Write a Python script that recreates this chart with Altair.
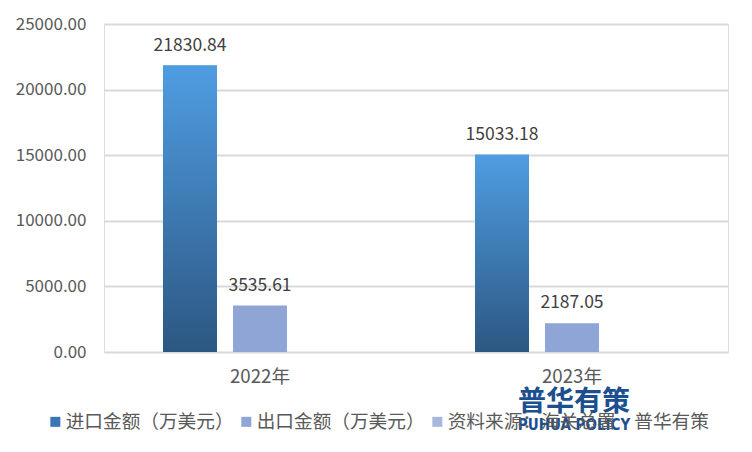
import altair as alt
import pandas as pd

years = ["2022年", "2023年"]
series = ["进口金额（万美元）", "出口金额（万美元）", "资料来源：海关总署　普华有策"]
import_vals = [21830.84, 15033.18]
export_vals = [3535.61, 2187.05]
y_ticks = [0, 5000, 10000, 15000, 20000, 25000]
watermark_cn = ["普华有策"]
watermark_en = ["PUHUA POLICY"]

rows = []
for y, v in zip(years, import_vals):
    rows.append({"year": y, "series": series[0], "value": v})
for y, v in zip(years, export_vals):
    rows.append({"year": y, "series": series[1], "value": v})
df = pd.DataFrame(rows)

FONT = "Noto Sans CJK SC"

x_enc = alt.X("year:N", sort=years,
              scale=alt.Scale(domain=years, paddingInner=0, paddingOuter=0),
              axis=alt.Axis(title=None, labelAngle=0, labelFontSize=18.67, labelColor="#595959",
                            labelPadding=15, ticks=False, domain=False, labelFont=FONT))
xo_enc = alt.XOffset("series:N", sort=series,
                     scale=alt.Scale(domain=series, paddingInner=16 / 70, paddingOuter=0.843))
y_enc = alt.Y("value:Q",
              scale=alt.Scale(domain=[0, 25000], nice=False),
              axis=alt.Axis(title=None, values=y_ticks, format=".2f", labelFontSize=17,
                            labelColor="#595959", labelPadding=18, ticks=False, domain=False,
                            gridColor="#d9d9d9", gridWidth=2, labelFont=FONT))

base = alt.Chart(df)

bars = base.mark_bar().encode(
    x=x_enc, xOffset=xo_enc, y=y_enc,
    color=alt.Color("series:N", sort=series,
                    scale=alt.Scale(domain=series, range=["#3a76b5", "#8fa5d5", "#a9b7df"]),
                    legend=alt.Legend(title=None, orient="none", legendX=-58, legendY=388,
                                      direction="horizontal", symbolType="square", symbolSize=100,
                                      symbolStrokeWidth=0, labelFontSize=18.67, labelColor="#595959",
                                      labelOffset=1, columnPadding=3, padding=0, labelLimit=500,
                                      labelFont=FONT)),
)

grad = alt.Gradient(
    gradient="linear",
    stops=[alt.GradientStop(color="#2c5782", offset=0),
           alt.GradientStop(color="#4f9de2", offset=1)],
    x1=0, x2=0, y1=1, y2=0,
)

import_bars = base.transform_filter(alt.datum.series == series[0]).mark_bar(fill=grad).encode(
    x=x_enc, xOffset=xo_enc, y=y_enc,
)

labels = base.mark_text(baseline="middle", dy=-20, fontSize=17.5, color="#404040", font=FONT).encode(
    x=x_enc, xOffset=xo_enc, y=y_enc,
    text=alt.Text("value:Q", format=".2f"),
)

wm1 = alt.Chart(pd.DataFrame({"t": watermark_cn})).mark_text(
    fontSize=28, fontWeight="bold", color="#1b4f90", font=FONT, baseline="middle"
).encode(x=alt.value(470), y=alt.value(379), text="t:N")

wm2 = alt.Chart(pd.DataFrame({"t": watermark_en})).mark_text(
    fontSize=15, fontWeight="bold", color="#1b4f90", font="DejaVu Sans Condensed, Liberation Sans",
    baseline="middle"
).encode(x=alt.value(470), y=alt.value(401), text="t:N")

chart = alt.layer(bars, import_bars, labels, wm1, wm2).properties(
    width=624, height=328,
    padding={"left": 96, "top": 16, "right": 12, "bottom": 88},
    autosize=alt.AutoSizeParams(type="none"),
).configure_view(stroke=None).configure(font=FONT)

chart.save("out.html", embed_options={"renderer": "svg", "actions": False})
